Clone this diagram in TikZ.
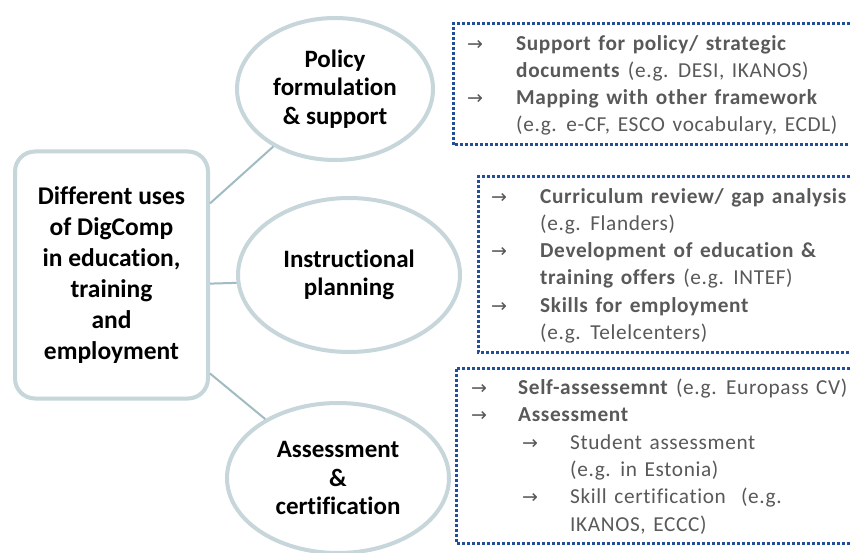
\documentclass[tikz,border=0pt]{standalone}
\usepackage{fontspec}
\setmainfont{Carlito}[Ligatures=NoCommon]
\newfontfamily\arrfont{DejaVu Sans}
\newfontfamily\itemfont[LetterSpace=3,WordSpace=1.4,Ligatures=NoCommon]{Carlito}
\usetikzlibrary{shapes.geometric}
\definecolor{rim}{RGB}{198,214,218}
\definecolor{linkc}{RGB}{160,188,194}
\definecolor{dotblue}{RGB}{32,78,152}
\definecolor{txtgray}{RGB}{89,89,89}
\tikzset{
 usebox/.style={draw=rim, line width=4pt, rounded corners=20pt, fill=white, minimum width=193pt, minimum height=247pt, inner sep=0pt, align=center, font=\fontsize{25.5}{31}\selectfont\bfseries},
 useell/.style={ellipse, draw=rim, line width=4pt, fill=white, inner sep=0pt, align=center, font=\fontsize{25}{28.5}\selectfont\bfseries},
 linkline/.style={draw=linkc, line width=2pt},
 dotframe/.style={draw=dotblue, line width=3pt, dash pattern=on 2.6pt off 2.4pt},
 itemtext/.style={anchor=base west, inner sep=0pt, align=left, text=txtgray, font=\itemfont\fontsize{21.3}{27.3}\selectfont}
}
\newcommand{\myarr}{{\arrfont\fontsize{19}{19}\selectfont →}}
\begin{document}
\begin{tikzpicture}[x=1pt,y=-1pt]
\useasboundingbox (0,0) rectangle (850,553);
\clip (0,0) rectangle (850,553);
\fill[white] (0,0) rectangle (850,553);

\node[usebox] (uses) at (111.5,275) {Different uses\\of DigComp\\in education,\\training\\and\\employment};
\node[useell, minimum width=196pt, minimum height=142pt] (policy) at (335,89) {Policy\\formulation\\\& support};
\node[useell, minimum width=222pt, minimum height=154pt] (plan) at (349,275) {Instructional\\planning};
\node[useell, minimum width=222pt, minimum height=150pt] (assess) at (338,478) {Assessment\\\&\\certification};

% connectors
\draw[linkline] (uses.36) -- (policy.223);
\draw[linkline] (uses.-5) -- (plan.184);
\draw[linkline] (uses.-45) -- (assess.141);

% dotted frames
\draw[dotframe] (870,24) -| (453,145) -- (870,145);
\draw[dotframe] (870,177) -| (478,352) -- (870,352);
\draw[dotframe] (870,368) -| (456,543) -- (870,543);

\node[itemtext] (t1) at (467,132) {\makebox[49pt][l]{\myarr}\textbf{Support for policy/ strategic}\\\hspace*{49pt}\textbf{documents} (e.g. DESI, IKANOS)\\\makebox[49pt][l]{\myarr}\textbf{Mapping with other framework}\\\hspace*{49pt}(e.g. e-CF, ESCO vocabulary, ECDL)};

\node[itemtext] (t2) at (491,339.5) {\makebox[49pt][l]{\myarr}\textbf{Curriculum review/ gap analysis}\\\hspace*{49pt}(e.g. Flanders)\\\makebox[49pt][l]{\myarr}\textbf{Development of education \&}\\\hspace*{49pt}\textbf{training offers} (e.g. INTEF)\\\makebox[49pt][l]{\myarr}\textbf{Skills for employment}\\\hspace*{49pt}(e.g. Telelcenters)};

\node[itemtext] (t3) at (471,531) {\makebox[47pt][l]{\myarr}\textbf{Self-assessemnt} (e.g. Europass CV)\\\makebox[47pt][l]{\myarr}\textbf{Assessment}\\\hspace*{51pt}\makebox[48pt][l]{\myarr}Student assessment\\\hspace*{99pt}(e.g. in Estonia)\\\hspace*{51pt}\makebox[48pt][l]{\myarr}Skill certification\ \ (e.g.\\\hspace*{99pt}IKANOS, ECCC)};
\end{tikzpicture}
\end{document}
